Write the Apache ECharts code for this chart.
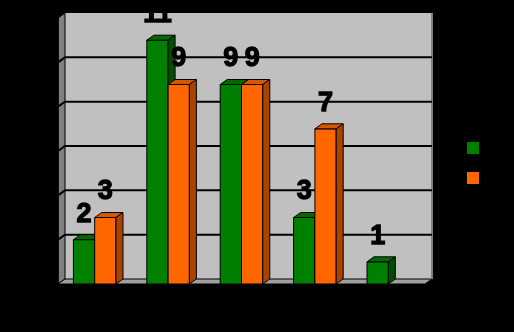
<!DOCTYPE html>
<html><head><meta charset="utf-8">
<script src="https://cdn.jsdelivr.net/npm/echarts@6/dist/echarts.min.js"></script>
<style>html,body{margin:0;padding:0;background:#000}#c{width:514px;height:332px}</style>
</head><body><div id="c"></div>
<script>
// ---- data ----
const categories = ['1', '2', '3', '4', '5'];
const greenValues = [2, 11, 9, 3, 1];
const orangeValues = [3, 9, 9, 7, null];
const yTicks = [0, 2, 4, 6, 8, 10, 12];
const seriesNames = ['Series1', 'Series2'];

const DX = 7, DY = -5;

function wallRender(params, api) {
  const band = api.size([1, 0])[0];
  const c0 = api.coord([0, 0]);
  const left = c0[0] - band / 2;
  const right = left + band * categories.length;
  const yb = c0[1];
  const yt = api.coord([0, yTicks[yTicks.length - 1]])[1];
  const children = [];
  children.push({type: 'rect', shape: {x: left + DX, y: yt + DY, width: right - left, height: yb - yt},
    style: {fill: '#c0c0c0'}});
  children.push({type: 'polygon', shape: {points: [[left, yt], [left + DX, yt + DY], [left + DX, yb + DY], [left, yb]]},
    style: {fill: '#808080', stroke: '#000', lineWidth: 1}});
  children.push({type: 'polygon', shape: {points: [[left, yb], [left + DX, yb + DY], [right + DX, yb + DY], [right, yb]]},
    style: {fill: '#a0a0a0', stroke: '#000', lineWidth: 1}});
  children.push({type: 'line', shape: {x1: right + DX, y1: yt + DY, x2: right + DX, y2: yb + DY},
    style: {stroke: '#808080', lineWidth: 2}});
  yTicks.slice(1, -1).forEach(v => {
    const y = api.coord([0, v])[1];
    children.push({type: 'polyline', shape: {points: [[left, y], [left + DX, y + DY], [right + DX, y + DY]]},
      style: {stroke: '#000', lineWidth: 2, fill: null}});
  });
  children.push({type: 'line', shape: {x1: left, y1: yt, x2: left, y2: yb},
    style: {stroke: '#000', lineWidth: 1.5}});
  return {type: 'group', children};
}

function barRender(side, front, top, sideCol) {
  return function (params, api) {
    const v = api.value(1);
    if (v == null || isNaN(v)) return;
    const c = api.coord([api.value(0), v]);
    const base = api.coord([api.value(0), 0])[1];
    const band = api.size([1, 0])[0];
    const w = band * 0.29;
    const x = side < 0 ? c[0] - w : c[0];
    const y = c[1];
    const st = {stroke: '#000', lineWidth: 1};
    return {type: 'group', children: [
      {type: 'rect', shape: {x: x, y: y, width: w, height: base - y}, style: Object.assign({fill: front}, st)},
      {type: 'polygon', shape: {points: [[x, y], [x + DX, y + DY], [x + w + DX, y + DY], [x + w, y]]},
        style: Object.assign({fill: top}, st)},
      {type: 'polygon', shape: {points: [[x + w, y], [x + w + DX, y + DY], [x + w + DX, base + DY], [x + w, base]]},
        style: Object.assign({fill: sideCol}, st)},
      {type: 'text', z2: 100, style: {text: String(v), x: x + w / 2, y: y - 12, align: 'center', verticalAlign: 'bottom',
        fill: '#000', stroke: '#000', lineWidth: 1.3,
        font: 'bold 27px "Liberation Sans", Arial, sans-serif'}}
    ]};
  };
}

const chart = echarts.init(document.getElementById('c'), null, {renderer: 'canvas'});
chart.setOption({
  backgroundColor: '#000',
  animation: false,
  grid: {left: 58, right: 89, top: 18, bottom: 48},
  xAxis: {type: 'category', data: categories, show: false},
  yAxis: {type: 'value', min: 0, max: 12, interval: 2, show: false},
  legend: {
    orient: 'vertical', left: 462, top: 137, itemWidth: 12, itemHeight: 12, itemGap: 18,
    data: [{name: seriesNames[0], icon: 'rect'}, {name: seriesNames[1], icon: 'rect'}],
    formatter: () => '', textStyle: {fontSize: 12}, itemStyle: {borderWidth: 0}
  },
  series: [
    {type: 'custom', name: 'walls', z: 1, renderItem: wallRender, data: [[0, 0]], silent: true},
    {type: 'custom', name: seriesNames[0], z: 2, itemStyle: {color: '#008000'},
      renderItem: barRender(-1, '#008000', '#006a00', '#004f00'),
      data: greenValues.map((v, i) => [i, v])},
    {type: 'custom', name: seriesNames[1], z: 3, itemStyle: {color: '#ff6600'},
      renderItem: barRender(1, '#ff6600', '#d85600', '#a84400'),
      data: orangeValues.map((v, i) => [i, v])}
  ]
});
</script>
</body></html>
